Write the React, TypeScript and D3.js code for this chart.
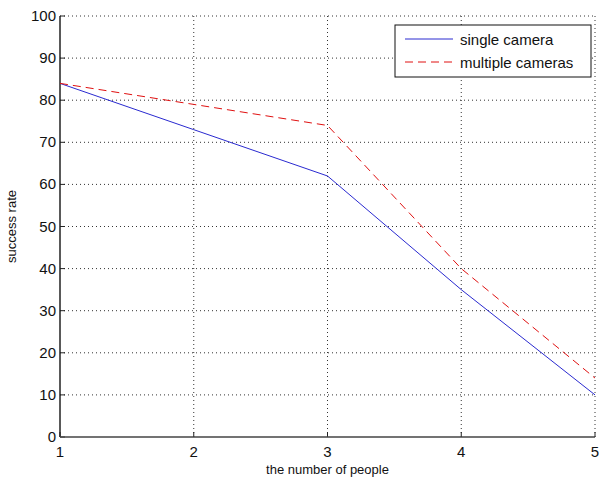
import React from 'react';
import * as d3 from 'd3';

// number of people on x, success rate (%) on y
const people = [1, 2, 3, 4, 5];
const singleCamera = [84, 73, 62, 35, 10];
const multipleCameras = [84, 79, 74, 40, 14];
const yTicks = [0, 10, 20, 30, 40, 50, 60, 70, 80, 90, 100];

const W = 599;
const H = 481;
const margin = { top: 16, right: 4, bottom: 44, left: 60 };

const App: React.FC = () => {
  const x = d3.scaleLinear().domain([1, 5]).range([margin.left, W - margin.right]);
  const y = d3.scaleLinear().domain([0, 100]).range([H - margin.bottom, margin.top]);

  const line = d3.line<number>()
    .x((_, i) => x(people[i]))
    .y(d => y(d));

  const font = 'Liberation Sans, Arial, sans-serif';
  const gridColor = '#333';
  const x0 = x.range()[0];
  const x1 = x.range()[1];
  const y0 = y.range()[0];
  const y1 = y.range()[1];

  return (
    <svg width={W} height={H} style={{ position: 'absolute', left: 0, top: 0, background: '#fff' }}>
      {/* grid */}
      {yTicks.filter(t => t > 0).map(t => (
        <line key={'gy' + t} x1={x0} x2={x1} y1={y(t)} y2={y(t)}
          stroke={gridColor} strokeWidth={1} strokeDasharray="1,3" />
      ))}
      {people.filter(p => p > 1).map(p => (
        <line key={'gx' + p} x1={x(p)} x2={x(p)} y1={y0} y2={y1}
          stroke={gridColor} strokeWidth={1} strokeDasharray="1,3" />
      ))}

      {/* ticks */}
      {yTicks.map(t => (
        <line key={'ty' + t} x1={x0} x2={x0 + 5} y1={y(t)} y2={y(t)} stroke="#222" />
      ))}
      {people.map(p => (
        <line key={'tx' + p} x1={x(p)} x2={x(p)} y1={y0} y2={y0 - 5} stroke="#222" />
      ))}

      {/* axes */}
      <line x1={x0} x2={x0} y1={y0} y2={y1} stroke="#222" strokeWidth={1.5} />
      <line x1={x0} x2={x1} y1={y0} y2={y0} stroke="#444" strokeWidth={1.5} />

      {/* tick labels */}
      {yTicks.map(t => (
        <text key={'ly' + t} x={x0 - 4} y={y(t) + 5} textAnchor="end"
          fontFamily={font} fontSize={15} fill="#111">{t}</text>
      ))}
      {people.map(p => (
        <text key={'lx' + p} x={x(p)} y={y0 + 20} textAnchor="middle"
          fontFamily={font} fontSize={15} fill="#111">{p}</text>
      ))}

      {/* series */}
      <path d={line(singleCamera) || ''} fill="none" stroke="#2a2ad0" strokeWidth={1} />
      <path d={line(multipleCameras) || ''} fill="none" stroke="#e01010" strokeWidth={1}
        strokeDasharray="8,5" />

      {/* axis labels */}
      <text x={(x0 + x1) / 2} y={474} textAnchor="middle" fontFamily={font} fontSize={13} fill="#111">
        the number of people
      </text>
      <text transform={`translate(16,${(y0 + y1) / 2}) rotate(-90)`} textAnchor="middle"
        fontFamily={font} fontSize={13} fill="#111">
        success rate
      </text>

      {/* legend */}
      <g>
        <rect x={395} y={25} width={196} height={52} fill="#fff" stroke="#111" strokeWidth={1} />
        <line x1={405} x2={453} y1={39} y2={39} stroke="#2a2ad0" strokeWidth={1} />
        <text x={460} y={45} fontFamily={font} fontSize={15} fill="#111">single camera</text>
        <line x1={405} x2={453} y1={62} y2={62} stroke="#e01010" strokeWidth={1} strokeDasharray="8,5" />
        <text x={460} y={68} fontFamily={font} fontSize={15} fill="#111">multiple cameras</text>
      </g>
    </svg>
  );
};

export default App;
